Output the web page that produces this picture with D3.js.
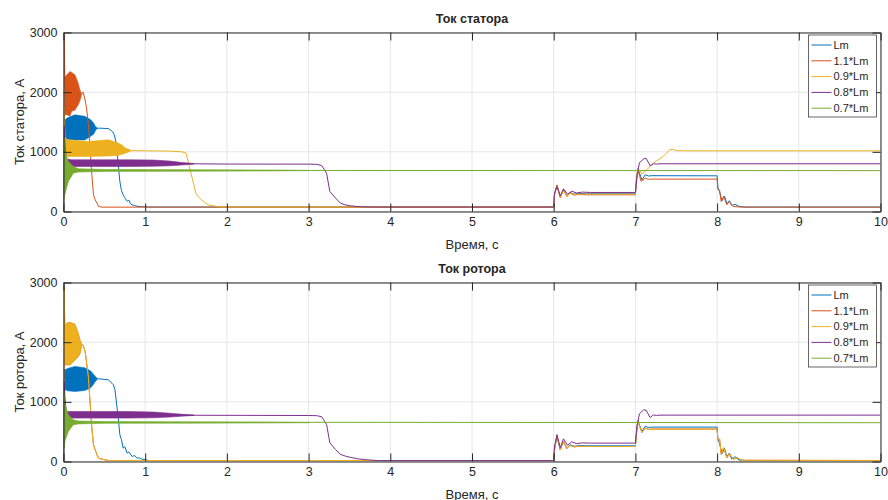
<!DOCTYPE html>
<html>
<head>
<meta charset="utf-8">
<script src="https://cdn.jsdelivr.net/npm/d3@7"></script>
<style>
  body { margin: 0; background: #fff; }
  text { font-family: "Liberation Sans", Arial, sans-serif; fill: #262626; }
</style>
</head>
<body>
<div id="chart"></div>
<script>

// Series names and colours (MATLAB default order)
const seriesNames = ["Lm", "1.1*Lm", "0.9*Lm", "0.8*Lm", "0.7*Lm"]
const seriesColors = ["#0072BD", "#D95319", "#EDB120", "#7E2F8E", "#77AC30"]

const xTicks = [0, 1, 2, 3, 4, 5, 6, 7, 8, 9, 10]
const yTicks = [0, 1000, 2000, 3000]

// ---- Stator current, smooth part [t, A]
const statorLm = [[0,0],[0.008,1550],[0.02,1385],[0.39,1390],[0.43,1397],[0.55,1390],[0.6,1340],[0.62,1290],[0.64,1180],[0.67,790],[0.69,500],[0.71,350],[0.73,280],[0.75,230],[0.78,170],[0.8,190],[0.82,130],[0.84,112],[0.87,100],[0.9,88],[0.96,80],[1.1,75],[6.0,75],[6.01,300],[6.04,440],[6.08,250],[6.12,360],[6.16,260],[6.2,320],[6.25,290],[6.3,305],[6.4,297],[7.0,297],[7.01,500],[7.03,720],[7.08,530],[7.12,615],[7.16,595],[7.2,600],[8.0,598],[8.01,400],[8.03,330],[8.06,180],[8.09,260],[8.12,130],[8.15,180],[8.18,100],[8.22,120],[8.27,85],[8.35,75],[10,75]]
const stator11 = [[0,0],[0.008,2960],[0.018,2100],[0.05,1960],[0.216,1950],[0.24,2000],[0.26,1900],[0.28,1750],[0.306,1453],[0.327,1006],[0.347,615],[0.367,280],[0.388,196],[0.41,140],[0.43,84],[0.47,73],[6.0,73],[6.01,280],[6.04,445],[6.08,230],[6.12,370],[6.16,250],[6.2,310],[6.25,275],[6.3,285],[6.4,280],[7.0,280],[7.01,450],[7.03,700],[7.07,505],[7.12,560],[7.16,540],[7.2,543],[8.0,543],[8.01,370],[8.03,360],[8.05,168],[8.08,251],[8.12,112],[8.15,168],[8.2,84],[8.3,73],[10,73]]
const stator09 = [[0,0],[0.008,1760],[0.016,1300],[0.022,1080],[0.8,1040],[0.82,1020],[1.0,1017],[1.3,1012],[1.45,1000],[1.5,980],[1.54,754],[1.58,531],[1.62,308],[1.65,250],[1.69,196],[1.73,150],[1.77,112],[1.82,100],[1.9,80],[2.0,75],[6.0,75],[6.01,280],[6.04,430],[6.08,240],[6.12,350],[6.16,260],[6.2,310],[6.25,285],[6.3,292],[6.4,290],[7.0,290],[7.01,500],[7.03,727],[7.08,627],[7.14,700],[7.22,811],[7.34,922],[7.42,1034],[7.45,1045],[7.5,1020],[7.6,1017],[10,1017]]
const stator08 = [[0,0],[0.008,1425],[0.018,1118],[0.03,922],[0.05,810],[1.6,800],[2.0,795],[3.0,794],[3.1,790],[3.16,770],[3.22,643],[3.26,335],[3.33,224],[3.39,140],[3.45,110],[3.51,96],[3.63,79],[3.8,75],[6.0,75],[6.01,300],[6.04,420],[6.08,260],[6.12,380],[6.17,290],[6.22,340],[6.28,310],[6.35,325],[6.45,319],[7.0,319],[7.02,600],[7.05,820],[7.1,880],[7.13,894],[7.18,766],[7.22,800],[7.26,795],[7.3,800],[10,800]]
const stator07 = [[0,0],[0.008,1230],[0.014,690],[2.5,688],[10,685]]

// ---- Stator current, fast-oscillation envelopes [t, low, high]
const statorLmBand = [[0.02,1230,1540],[0.05,1210,1570],[0.14,1200,1620],[0.26,1200,1595],[0.33,1258,1540],[0.37,1300,1480],[0.39,1352,1425],[0.41,1390,1405]]
const stator11Band = [[0.016,1620,2250],[0.04,1620,2290],[0.08,1600,2346],[0.1,1680,2330],[0.14,1700,2290],[0.18,1788,2150],[0.2,1850,2040],[0.216,1927,1990]]
const stator09Band = [[0.02,950,1250],[0.05,922,1202],[0.3,922,1174],[0.55,930,1202],[0.67,940,1146],[0.72,960,1110],[0.76,978,1062],[0.82,1010,1025]]
const stator08Band = [[0.05,754,880],[0.1,754,866],[0.8,754,866],[1.1,758,862],[1.3,765,845],[1.45,780,820],[1.6,795,805]]
const stator07Band = [[0.01,230,1174],[0.02,300,1000],[0.06,503,838],[0.12,643,754],[0.18,660,716],[0.5,672,705],[1.5,675,700],[2.5,680,695],[3.0,685,688]]

// ---- Rotor current, smooth part [t, A]
const rotorLm = [[0,0],[0.008,1550],[0.02,1380],[0.39,1380],[0.43,1386],[0.55,1370],[0.61,1286],[0.63,1202],[0.67,727],[0.69,447],[0.71,363],[0.73,224],[0.75,250],[0.78,140],[0.8,160],[0.84,84],[0.87,100],[0.9,56],[0.93,60],[0.96,40],[1.05,15],[6.0,15],[6.01,200],[6.04,420],[6.08,200],[6.12,330],[6.16,220],[6.2,280],[6.25,255],[6.3,265],[6.4,263],[7.0,263],[7.01,450],[7.03,687],[7.08,503],[7.12,590],[7.16,570],[7.2,576],[8.0,576],[8.01,380],[8.03,300],[8.06,130],[8.09,220],[8.12,80],[8.15,140],[8.18,40],[8.22,80],[8.27,25],[8.35,15],[10,15]]
const rotorHigh = [[0,0],[0.008,2933],[0.018,2050],[0.05,1960],[0.216,1950],[0.24,1950],[0.265,1843],[0.306,1397],[0.327,950],[0.347,559],[0.367,280],[0.388,196],[0.41,112],[0.43,56],[0.47,40],[0.5,30],[0.55,17],[6.0,17],[6.01,200],[6.04,447],[6.08,196],[6.12,340],[6.16,220],[6.2,270],[6.25,245],[6.3,255],[6.4,251],[7.0,251],[7.01,420],[7.03,670],[7.08,486],[7.12,560],[7.16,538],[7.2,543],[8.0,543],[8.01,350],[8.03,380],[8.05,120],[8.08,230],[8.12,60],[8.15,130],[8.2,40],[8.25,60],[8.3,20],[10,17]]
const rotor08 = [[0,0],[0.008,1341],[0.018,1062],[0.03,894],[0.05,780],[1.6,775],[3.0,771],[3.1,768],[3.16,750],[3.22,620],[3.26,315],[3.33,200],[3.39,120],[3.45,90],[3.51,70],[3.6,45],[3.7,30],[3.85,15],[6.0,15],[6.01,250],[6.04,447],[6.08,230],[6.12,380],[6.17,270],[6.22,330],[6.28,300],[6.35,312],[6.45,308],[7.0,308],[7.02,600],[7.05,800],[7.1,866],[7.13,860],[7.18,737],[7.22,780],[7.26,772],[7.3,777],[10,777]]
const rotor07 = [[0,0],[0.008,1146],[0.014,660],[10,650]]

// ---- Rotor current, fast-oscillation envelopes [t, low, high]
const rotorLmBand = [[0.02,1202,1537],[0.05,1185,1560],[0.14,1174,1593],[0.26,1190,1570],[0.33,1230,1520],[0.37,1300,1460],[0.39,1341,1425],[0.41,1375,1395]]
const rotorHighBand = [[0.016,1620,2250],[0.04,1620,2319],[0.08,1620,2330],[0.14,1700,2300],[0.18,1760,2150],[0.2,1800,2040],[0.216,1900,1990]]
const rotor08Band = [[0.05,727,838],[0.8,727,838],[1.1,733,828],[1.3,745,810],[1.45,760,792],[1.6,772,780]]
const rotor07Band = [[0.01,224,1100],[0.02,350,950],[0.06,503,782],[0.12,615,699],[0.18,630,680],[0.5,640,668],[1.5,643,664],[2.5,646,658],[3.0,650,652]]

const panels = [
  {
    title: "Ток статора", ylabel: "Ток статора, А", top: 32.5,
    lines: [statorLm, stator11, stator09, stator08, stator07],
    bands: [statorLmBand, stator11Band, stator09Band, stator08Band, stator07Band]
  },
  {
    title: "Ток ротора", ylabel: "Ток ротора, А", top: 282.5,
    lines: [rotorLm, rotorHigh, rotorHigh, rotor08, rotor07],
    bands: [rotorLmBand, rotorHighBand, rotorHighBand, rotor08Band, rotor07Band]
  }
]

const width = 888
const height = 500
const plotLeft = 63.5
const plotRight = 880.5
const plotHeight = 179

const svg = d3.select("#chart").append("svg")
  .attr("width", width)
  .attr("height", height)

const x = d3.scaleLinear().domain([0, 10]).range([plotLeft, plotRight])

panels.forEach((p, pi) => {
  const y = d3.scaleLinear().domain([0, 3000]).range([p.top + plotHeight, p.top])
  const g = svg.append("g")

  // clip to the axes box
  const clipId = "clip" + pi
  svg.append("clipPath").attr("id", clipId)
    .append("rect")
      .attr("x", plotLeft).attr("y", p.top)
      .attr("width", plotRight - plotLeft).attr("height", plotHeight)

  // grid
  g.selectAll(".gx").data(xTicks).join("line")
    .attr("x1", d => x(d)).attr("x2", d => x(d))
    .attr("y1", p.top).attr("y2", p.top + plotHeight)
    .attr("stroke", "#e6e6e6").attr("stroke-width", 1)
  g.selectAll(".gy").data(yTicks).join("line")
    .attr("x1", plotLeft).attr("x2", plotRight)
    .attr("y1", d => y(d)).attr("y2", d => y(d))
    .attr("stroke", "#e6e6e6").attr("stroke-width", 1)

  // data: oscillation envelope + trace for each series
  const dataG = g.append("g").attr("clip-path", `url(#${clipId})`)
  const lineGen = d3.line().x(d => x(d[0])).y(d => y(d[1]))
  const areaGen = d3.area().x(d => x(d[0])).y0(d => y(d[1])).y1(d => y(d[2]))

  p.lines.forEach((ln, i) => {
    dataG.append("path")
      .attr("d", areaGen(p.bands[i]))
      .attr("fill", seriesColors[i])
      .attr("stroke", seriesColors[i])
      .attr("stroke-width", 0.6)
    dataG.append("path")
      .attr("d", lineGen(ln))
      .attr("fill", "none")
      .attr("stroke", seriesColors[i])
      .attr("stroke-width", 1)
  })

  // axes (ticks inside, box on all four sides)
  const axisStyle = sel => {
    sel.selectAll("path, line").attr("stroke", "#262626")
    sel.selectAll("text").attr("fill", "#262626")
      .style("font-family", "'Liberation Sans', Arial, sans-serif")
      .style("font-size", "12.5px")
  }
  g.append("g").attr("transform", `translate(0,${p.top + plotHeight})`)
    .call(d3.axisBottom(x).tickValues(xTicks).tickFormat(d3.format("d")).tickSizeInner(-8).tickSizeOuter(0).tickPadding(6))
    .call(axisStyle)
  g.append("g").attr("transform", `translate(0,${p.top})`)
    .call(d3.axisTop(x).tickValues(xTicks).tickSizeInner(-8).tickSizeOuter(0).tickFormat(""))
    .call(axisStyle)
  g.append("g").attr("transform", `translate(${plotLeft},0)`)
    .call(d3.axisLeft(y).tickValues(yTicks).tickFormat(d3.format("d")).tickSizeInner(-8).tickSizeOuter(0).tickPadding(6))
    .call(axisStyle)
  g.append("g").attr("transform", `translate(${plotRight},0)`)
    .call(d3.axisRight(y).tickValues(yTicks).tickSizeInner(-8).tickSizeOuter(0).tickFormat(""))
    .call(axisStyle)
  g.selectAll(".domain").attr("stroke-width", 1)

  // titles
  g.append("text")
    .attr("x", (plotLeft + plotRight) / 2).attr("y", p.top - 10)
    .attr("text-anchor", "middle")
    .style("font-size", "12.5px").style("font-weight", "bold")
    .attr("fill", "#000")
    .text(p.title)
  g.append("text")
    .attr("x", (plotLeft + plotRight) / 2).attr("y", p.top + plotHeight + 37)
    .attr("text-anchor", "middle")
    .style("font-size", "13px")
    .text("Время, с")
  g.append("text")
    .attr("transform", `translate(19,${p.top + plotHeight / 2}) rotate(-90)`)
    .attr("text-anchor", "middle").attr("dy", "0.35em")
    .style("font-size", "13px")
    .text(p.ylabel)

  // legend
  const lg = g.append("g").attr("transform", `translate(808.5,${p.top + 2.5})`)
  lg.append("rect")
    .attr("width", 68).attr("height", 82)
    .attr("fill", "#fff").attr("stroke", "#262626").attr("stroke-width", 0.7)
  seriesNames.forEach((name, i) => {
    const ly = 10 + i * 15.8
    lg.append("line")
      .attr("x1", 3).attr("x2", 23).attr("y1", ly).attr("y2", ly)
      .attr("stroke", seriesColors[i]).attr("stroke-width", 1)
    lg.append("text")
      .attr("x", 25).attr("y", ly).attr("dy", "0.35em")
      .style("font-size", "11px")
      .attr("fill", "#000")
      .text(name)
  })
})

</script>
</body>
</html>
